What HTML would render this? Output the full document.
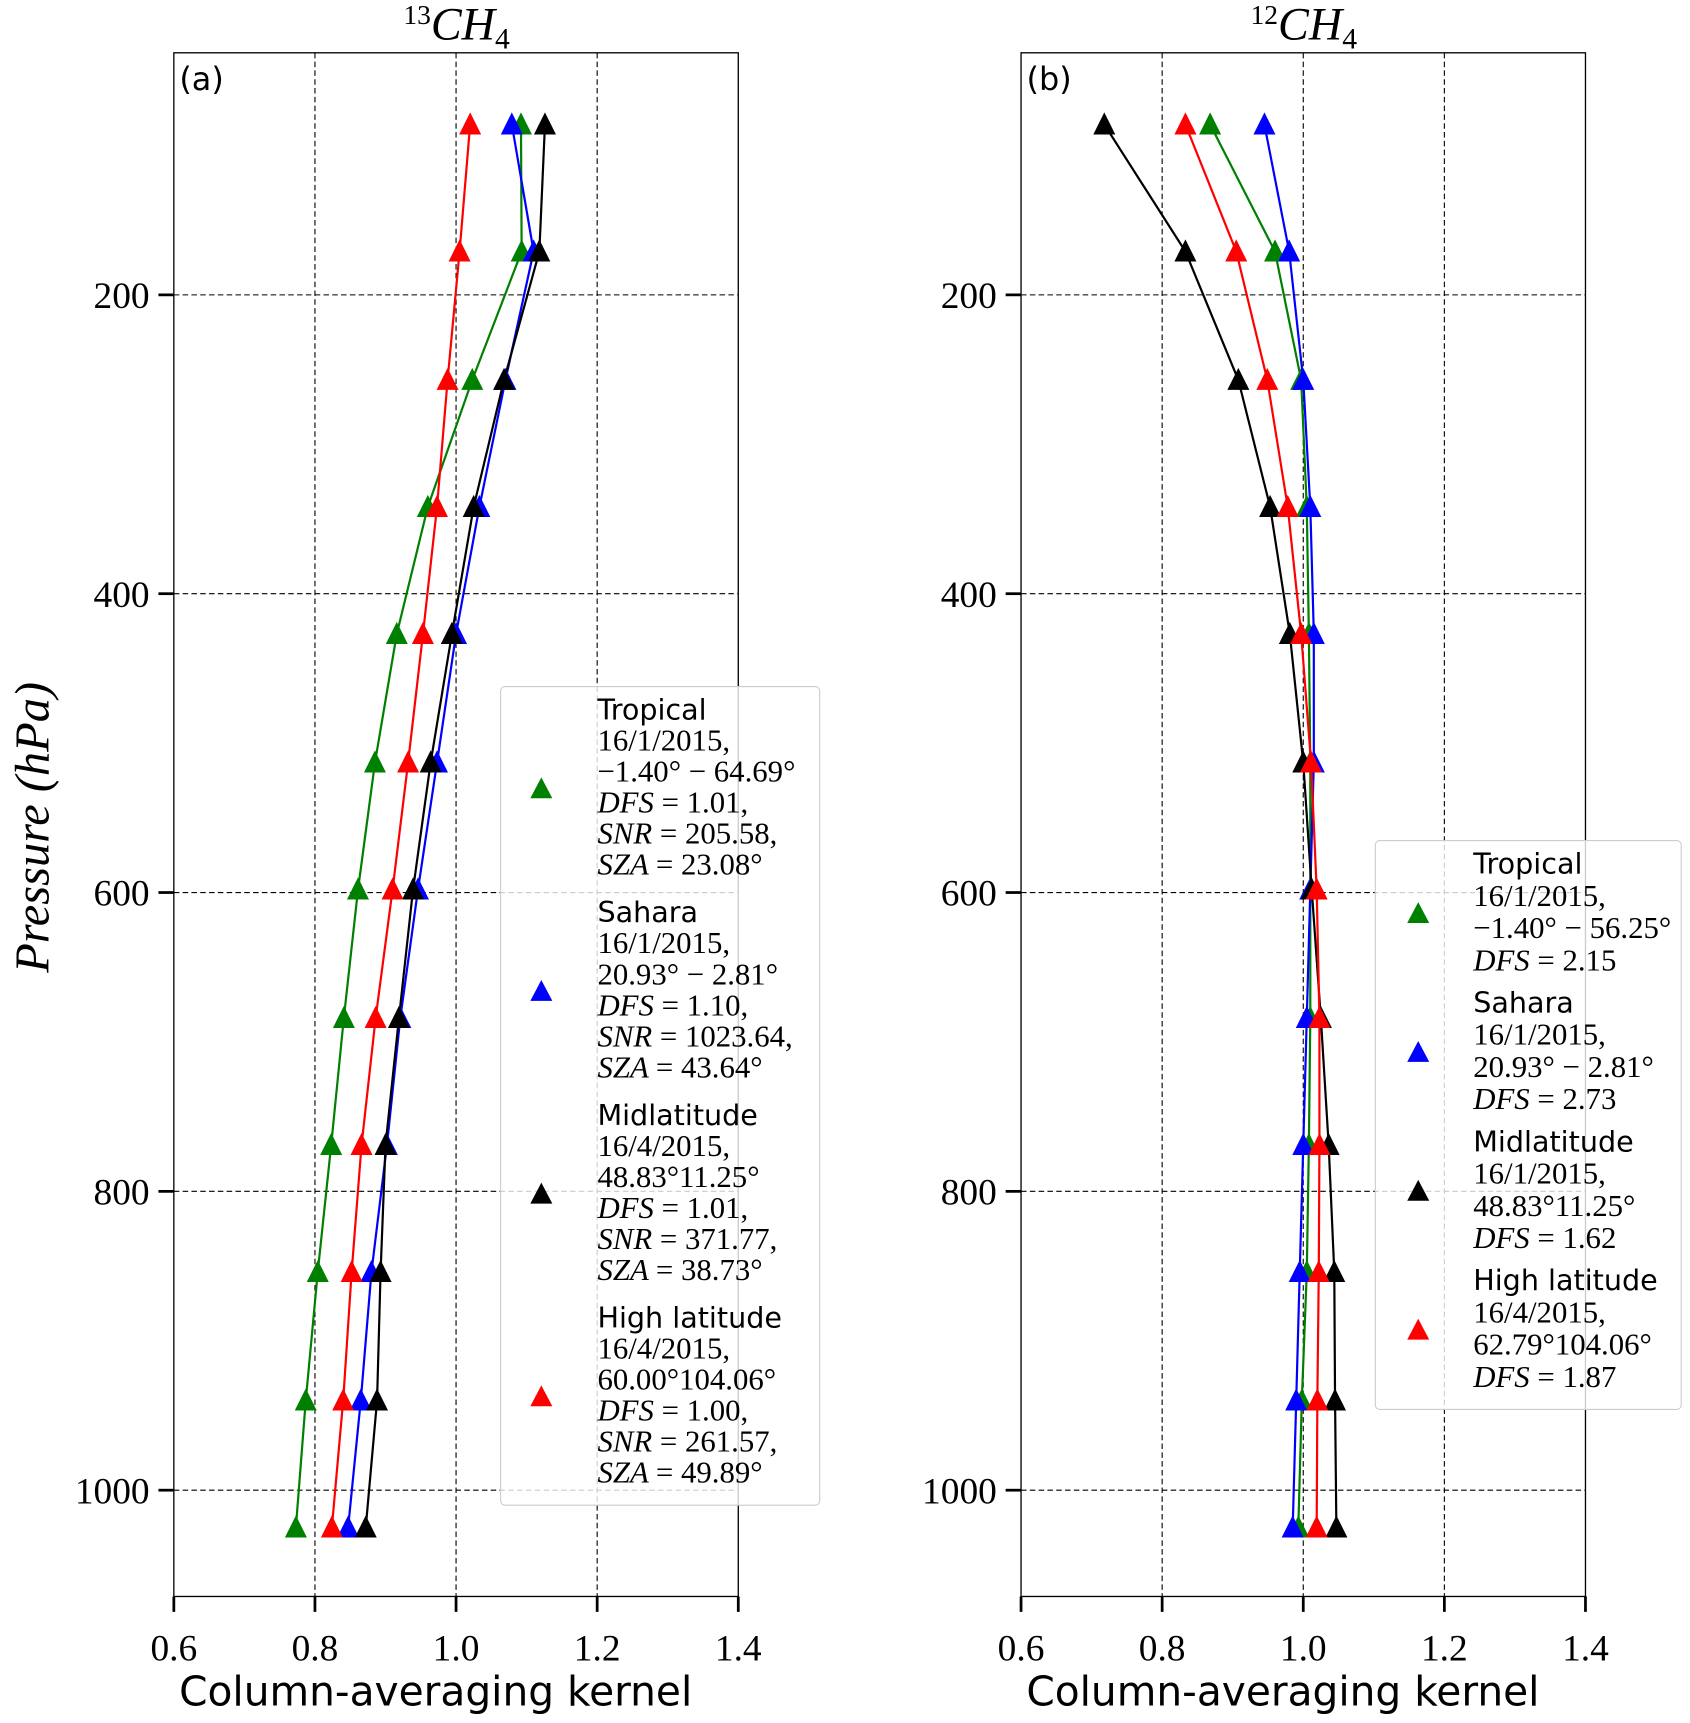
<!DOCTYPE html>
<html><head><meta charset="utf-8"><style>
html,body{margin:0;padding:0;background:#fff;}
svg{display:block;}
.serif{font-family:"Liberation Serif","DejaVu Serif",serif;}
.sans{font-family:"DejaVu Sans","Liberation Sans",sans-serif;}
</style></head><body>
<svg id="fig" width="1690" height="1723" viewBox="0 0 1536 1566" preserveAspectRatio="none" xmlns="http://www.w3.org/2000/svg">
<g id="pa"></g>
<g id="pb"></g>
<text class="serif" transform="translate(44,752) rotate(-90)" text-anchor="middle" font-size="44" font-style="italic">Pressure (hPa)</text>
</svg>
<script>
const pressures = [86,171,257,342,427,513,598,684,769,854,940,1025];
const xTicks = [0.6,0.8,1.0,1.2,1.4];
const xTickLabels = ["0.6","0.8","1.0","1.2","1.4"];
const yTicks = [200,400,600,800,1000];
const yTickLabels = ["200","400","600","800","1000"];
const aGreen = [1.092,1.093,1.023,0.960,0.916,0.885,0.861,0.841,0.823,0.804,0.787,0.773];
const aBlue  = [1.079,1.110,1.070,1.033,1.000,0.973,0.946,0.921,0.902,0.880,0.865,0.847];
const aBlack = [1.126,1.118,1.068,1.025,0.994,0.964,0.939,0.919,0.900,0.893,0.888,0.872];
const aRed   = [1.020,1.005,0.988,0.973,0.953,0.932,0.910,0.886,0.866,0.852,0.840,0.824];
const bGreen = [0.868,0.960,0.997,1.005,1.008,1.010,1.010,1.010,1.008,1.005,0.998,0.993];
const bBlue  = [0.945,0.980,1.000,1.010,1.015,1.015,1.010,1.005,1.000,0.995,0.990,0.985];
const bBlack = [0.718,0.833,0.908,0.953,0.981,1.000,1.012,1.025,1.036,1.044,1.045,1.047];
const bRed   = [0.833,0.905,0.949,0.978,0.997,1.011,1.019,1.023,1.023,1.022,1.020,1.019];

const NS="http://www.w3.org/2000/svg";
function mk(tag,attrs,parent){const e=document.createElementNS(NS,tag);for(const k in attrs)e.setAttribute(k,attrs[k]);parent.appendChild(e);return e;}
const TOP=48,BOT=1451;
function yScale(p){return 268+(p-200)*1.358;}

function panel(g,left,title,letter,series,legend){
  const right=left+513;
  const xs=v=>left+(v-0.6)/0.8*513;
  xTicks.forEach((t,i)=>{
    if(i>0&&i<xTicks.length-1){const l=mk('line',{x1:xs(t),x2:xs(t),y1:TOP,y2:BOT,stroke:'#000','stroke-width':1,'stroke-dasharray':'5,3'},g);
    }
    const tk=mk('line',{x1:xs(t),x2:xs(t),y1:BOT,y2:BOT+14,stroke:'#000','stroke-width':2.5},g);
    
    const tx=mk('text',{x:xs(t),y:BOT+58,'text-anchor':'middle','font-size':34,class:'serif'},g);
    tx.textContent=xTickLabels[i];
    
  });
  yTicks.forEach((t,i)=>{
    const y=yScale(t);
    const l=mk('line',{x1:left,x2:right,y1:y,y2:y,stroke:'#000','stroke-width':1,'stroke-dasharray':'5,3'},g);
    
    const tk=mk('line',{x1:left-14,x2:left,y1:y,y2:y,stroke:'#000','stroke-width':2.5},g);
    
    const tx=mk('text',{x:left-22,y:y+12,'text-anchor':'end','font-size':34,class:'serif'},g);
    tx.textContent=yTickLabels[i];
    
  });
  const fr=mk('rect',{x:left,y:TOP,width:513,height:BOT-TOP,fill:'none',stroke:'#000','stroke-width':1.2},g);
  
  series.forEach(s=>{
    const pts=s.vals.map((v,i)=>xs(v).toFixed(1)+','+yScale(pressures[i]).toFixed(1)).join(' ');
    const pl=mk('polyline',{points:pts,fill:'none',stroke:s.color,'stroke-width':2},g);
    
    s.vals.forEach((v,i)=>{
      const x=xs(v),y=yScale(pressures[i]);
      const m=mk('polygon',{points:`${x},${y-11} ${x-10},${y+9} ${x+10},${y+9}`,fill:s.color},g);
      
    });
  });
  const tt=mk('text',{x:left+257,y:36,'text-anchor':'middle','font-size':42,'font-style':'italic',class:'serif'},g);
  tt.innerHTML='<tspan font-size="25" font-style="normal" dy="-14">'+title[0]+'</tspan><tspan dy="14">CH</tspan><tspan font-size="27" font-style="normal" dy="8">4</tspan>';
  
  const lt=mk('text',{x:left+5,y:82,'font-size':29,class:'sans'},g);
  lt.textContent=letter;
  
  const xl=mk('text',{x:left+238,y:1550,'text-anchor':'middle','font-size':37,class:'sans'},g);
  xl.textContent='Column-averaging kernel';
  
  const L=legend;
  const lb=mk('rect',{x:L.x,y:L.y,width:L.w,height:L.h,rx:4,fill:'#fff','fill-opacity':0.8,stroke:'#ccc','stroke-width':1},g);
  
  let y=L.y+30;
  L.entries.forEach(en=>{
    const top=y;
    en.lines.forEach((ln,j)=>{
      const t=mk('text',{x:L.tx,y:y,'font-size':j==0?26:28,class:j==0?'sans':'serif'},g);
      if(j>0&&/=/.test(ln)){const p=ln.split('=');t.innerHTML='<tspan font-style="italic">'+p[0]+'</tspan>='+p[1];}
      else t.textContent=ln;
      
      y+=L.lh;
    });
    const mid=(top+y-L.lh)/2-8;
    const mx=L.mx;
    const m=mk('polygon',{points:`${mx},${mid-10} ${mx-10},${mid+9} ${mx+10},${mid+9}`,fill:en.color},g);
    
    y+=L.gap;
  });
}
panel(document.getElementById('pa'),158,['13'],'(a)',[
  {name:'tropical',color:'#008000',vals:aGreen},{name:'sahara',color:'#0000ff',vals:aBlue},
  {name:'midlatitude',color:'#000',vals:aBlack},{name:'high-latitude',color:'#ff0000',vals:aRed}],
  {x:455,y:624,w:290,h:744,tx:543,mx:492,lh:28.2,gap:15,entries:[
   {color:'#008000',lines:['Tropical','16/1/2015,','\u22121.40\u00b0 \u2212 64.69\u00b0','DFS = 1.01,','SNR = 205.58,','SZA = 23.08\u00b0']},
   {color:'#0000ff',lines:['Sahara','16/1/2015,','20.93\u00b0 \u2212 2.81\u00b0','DFS = 1.10,','SNR = 1023.64,','SZA = 43.64\u00b0']},
   {color:'#000',lines:['Midlatitude','16/4/2015,','48.83\u00b011.25\u00b0','DFS = 1.01,','SNR = 371.77,','SZA = 38.73\u00b0']},
   {color:'#ff0000',lines:['High latitude','16/4/2015,','60.00\u00b0104.06\u00b0','DFS = 1.00,','SNR = 261.57,','SZA = 49.89\u00b0']}]});
panel(document.getElementById('pb'),928,['12'],'(b)',[
  {name:'tropical',color:'#008000',vals:bGreen},{name:'sahara',color:'#0000ff',vals:bBlue},
  {name:'midlatitude',color:'#000',vals:bBlack},{name:'high-latitude',color:'#ff0000',vals:bRed}],
  {x:1250,y:764,w:278,h:517,tx:1339,mx:1289,lh:29.3,gap:9,entries:[
   {color:'#008000',lines:['Tropical','16/1/2015,','\u22121.40\u00b0 \u2212 56.25\u00b0','DFS = 2.15']},
   {color:'#0000ff',lines:['Sahara','16/1/2015,','20.93\u00b0 \u2212 2.81\u00b0','DFS = 2.73']},
   {color:'#000',lines:['Midlatitude','16/1/2015,','48.83\u00b011.25\u00b0','DFS = 1.62']},
   {color:'#ff0000',lines:['High latitude','16/4/2015,','62.79\u00b0104.06\u00b0','DFS = 1.87']}]});
</script>
</body></html>
